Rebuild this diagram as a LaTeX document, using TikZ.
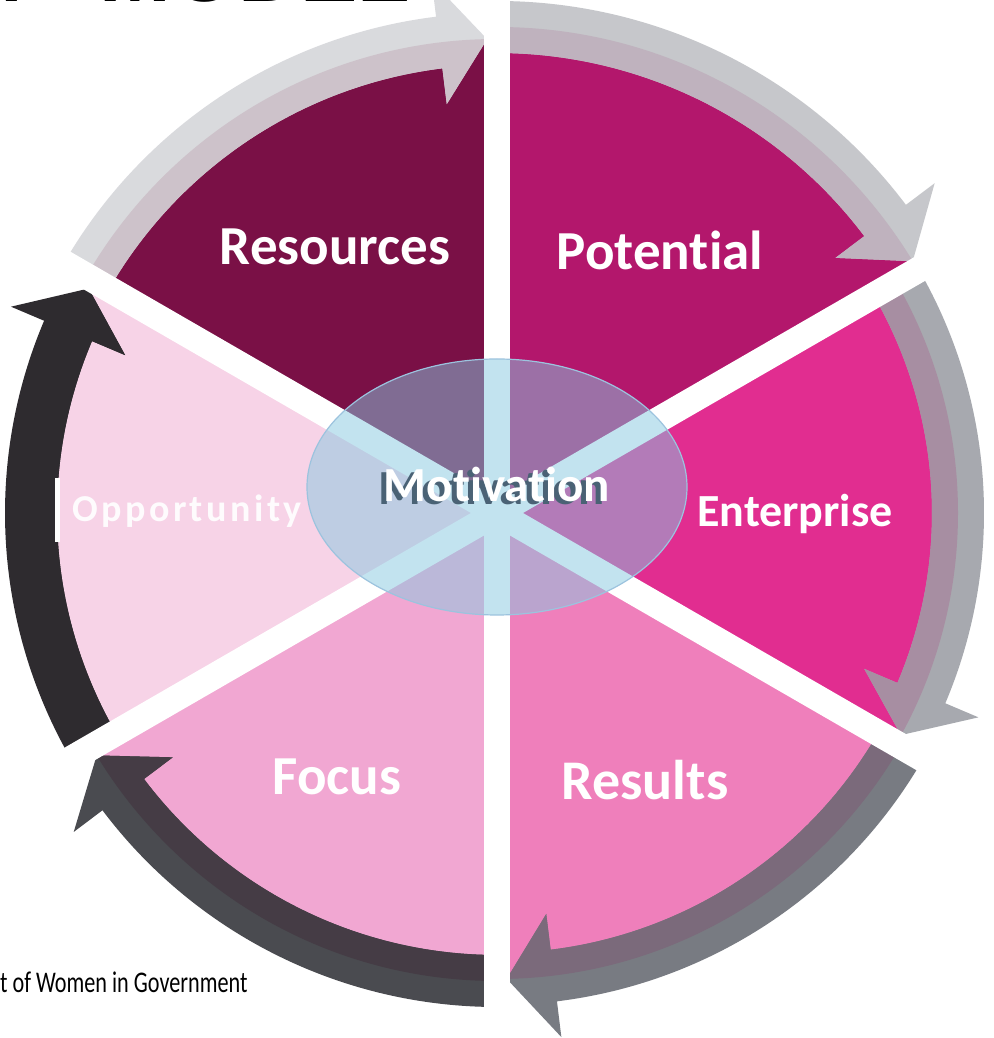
\documentclass[tikz,border=0pt]{standalone}
\usepackage{fontspec}
\usetikzlibrary{shapes.geometric}
\setmainfont{Carlito}[Ligatures={NoCommon}]
\newfontfamily\titlefont{Liberation Sans}
\definecolor{cRes}{HTML}{7A1046}
\definecolor{cPot}{HTML}{B3176C}
\definecolor{cEnt}{HTML}{E12D90}
\definecolor{cRsl}{HTML}{EF7FBB}
\definecolor{cFoc}{HTML}{F1A7D2}
\definecolor{cOpp}{HTML}{F7D3E7}
\definecolor{aResO}{HTML}{D9DADD}
\definecolor{aResI}{HTML}{CDC2CA}
\definecolor{aPotO}{HTML}{C6C7CB}
\definecolor{aPotI}{HTML}{BFB2BE}
\definecolor{aEntO}{HTML}{A7A9AF}
\definecolor{aEntI}{HTML}{A78EA2}
\definecolor{aRslO}{HTML}{787B82}
\definecolor{aRslI}{HTML}{7B6A7B}
\definecolor{aFocO}{HTML}{4A4B50}
\definecolor{aFocI}{HTML}{453C45}
\definecolor{aOpp}{HTML}{2E2B2F}
\definecolor{ellFill}{HTML}{87C9E1}
\definecolor{ellLine}{HTML}{9CC3DE}
\definecolor{shadowC}{HTML}{4A6275}
% #1 tip angle, #2 radial offset, #3 outer colour, #4 inner colour
\newcommand\cycarrow[4]{%
  \fill[#3, arrowpath={#1}{#2}];
  \begin{scope}
    \clip (0,0) circle[radius={466+#2}];
    \fill[#4, arrowpath={#1}{#2}];
  \end{scope}}
\begin{document}
\begin{tikzpicture}[x=1pt,y=1pt,
  sectorpath/.style 2 args={insert path={(0,0) -- (#1:{466+#2}) arc[start angle=#1, end angle={#1+60}, radius={466+#2}] -- cycle}},
  arrowpath/.style 2 args={insert path={({#1+60}:{492+#2}) arc[start angle={#1+60}, end angle={#1+7}, radius={492+#2}] -- ({#1+7}:{528+#2}) -- ({#1+1.2}:{466+#2}) -- ({#1+7}:{404+#2}) -- ({#1+7}:{440+#2}) arc[start angle={#1+7}, end angle={#1+60}, radius={440+#2}] -- cycle}},
  gapline/.style={white, line width=26},
  lbl/.style={text=white, inner sep=0, anchor=base, font=\bfseries\fontsize{55}{62}\selectfont},
]
\useasboundingbox (0,0) rectangle (993,1038);
\clip (0,0) rectangle (993,1038);
\fill[white] (0,0) rectangle (993,1038);
\coordinate (C) at (497,525);
\begin{scope}[shift={(C)}]
  % sectors
  \fill[cRes, sectorpath={90}{8}];
  \fill[cPot, sectorpath={30}{20}];
  \fill[cEnt, sectorpath={-30}{-5}];
  \fill[cRsl, sectorpath={-90}{0}];
  \fill[cFoc, sectorpath={-150}{2}];
  \fill[cOpp, sectorpath={150}{0}];
  % curved arrows round the rim
  \cycarrow{90}{8}{aResO}{aResI}
  \cycarrow{30}{20}{aPotO}{aPotI}
  \cycarrow{-30}{-5}{aEntO}{aEntI}
  \cycarrow{-90}{0}{aRslO}{aRslI}
  \cycarrow{-150}{2}{aFocO}{aFocI}
  \cycarrow{150}{0}{aOpp}{aOpp}
  % white gaps
  \draw[gapline] (90:560) -- (270:560);
  \draw[gapline] (30:560) -- (210:560);
  \draw[gapline] (-30:560) -- (150:560);
\end{scope}
% white bar left of Opportunity
\fill[white] (55,496) rectangle (60,560);
% central ellipse
\node[draw=ellLine, line width=1.2, fill=ellFill, fill opacity=0.5, ellipse, minimum width=380, minimum height=256, inner sep=0] (ell) at (497,551) {};
% labels
\node[lbl] (res) at (335,773) {Resources};
\node[lbl] (pot) at (660,768) {Potential};
\node[lbl, font=\bfseries\fontsize{46}{52}\selectfont] (ent) at (795,511) {Enterprise};
\node[lbl, font=\bfseries\fontsize{56}{62}\selectfont] (rsl) at (645,238) {Results};
\node[lbl] (foc) at (337,243) {Focus};
\node[lbl, text=white!92!cOpp, font=\bfseries\fontsize{38}{44}\selectfont\addfontfeature{LetterSpace=9}] (opp) at (187,516) {Opportunity};
\node[lbl, text=shadowC, font=\bfseries\fontsize{49}{56}\selectfont] (motsh) at (492,533) {Motivation};
\node[lbl, font=\bfseries\fontsize{49}{56}\selectfont] (mot) at (497,536) {Motivation};
% title fragment and footer
\node[anchor=base west, inner sep=0, font=\titlefont\bfseries\fontsize{86}{90}\selectfont] (title) at (-49,1036) {M\hspace{77pt}MODEL};
\node[anchor=base west, inner sep=0] (foot) at (0,45) {\scalebox{0.74}[1]{\fontsize{30}{36}\selectfont t of Women in Government}};
\end{tikzpicture}
\end{document}
